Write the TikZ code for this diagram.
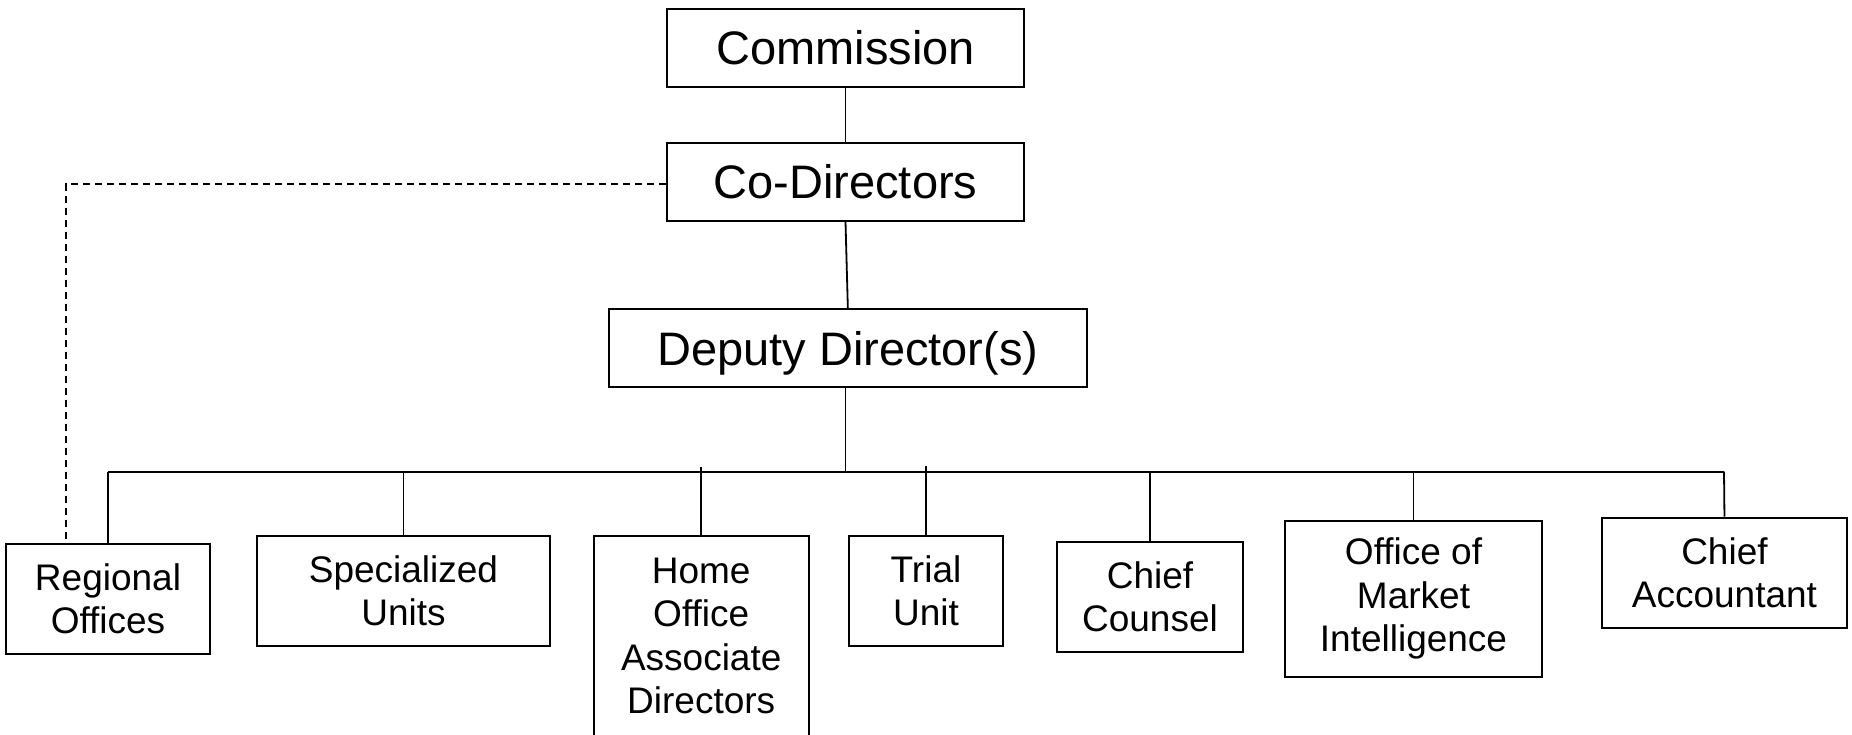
\documentclass[tikz,border=0pt]{standalone}
\usepackage{fontspec}
\setmainfont{Liberation Sans}
\begin{document}
\begin{tikzpicture}[x=1pt,y=-1pt,
  topbox/.style={draw=black,line width=2pt,inner sep=0pt,align=center,text height=33.7pt,text depth=0pt,font=\fontsize{47}{54}\selectfont},
  unitbox/.style={draw=black,line width=2pt,inner sep=0pt,align=center,font=\fontsize{37}{43.3}\selectfont},
  link/.style={draw=black,line width=1.8pt},
  dotted link/.style={draw=black,line width=1.9pt,dash pattern=on 7pt off 5pt}]
\useasboundingbox (0,0) rectangle (1852,734);
% top chain
\node[topbox,minimum width=357.6pt,minimum height=77.7pt] (com) at (845.5,47.85) {Commission};
\node[topbox,minimum width=357pt,minimum height=77.4pt] (cod) at (845.5,182) {Co-Directors};
\node[topbox,minimum width=477.7pt,minimum height=78pt] (dep) at (847.85,348.3) {Deputy Director(s)};
% units
\node[unitbox,minimum width=204.9pt,minimum height=110pt] (reg) at (108,598.7) {Regional\\Offices};
\node[unitbox,minimum width=292.2pt,minimum height=110.3pt] (spe) at (403.5,590.85) {Specialized\\Units};
\node[unitbox,minimum width=214.6pt,minimum height=200.3pt] (hom) at (701.2,635.85) {Home\\Office\\Associate\\Directors};
\node[unitbox,minimum width=153.5pt,minimum height=110.3pt] (tri) at (926,590.85) {Trial\\Unit};
\node[unitbox,minimum width=186pt,minimum height=110.3pt] (cc) at (1150,596.85) {Chief\\Counsel};
\node[unitbox,minimum width=256.4pt,minimum height=156pt] (omi) at (1413.5,598.7) {Office of\\Market\\Intelligence};
\node[unitbox,minimum width=245.7pt,minimum height=110pt] (ca) at (1724.45,572.7) {Chief\\Accountant};
% connectors
\coordinate (busL) at (108,471.7);
\coordinate (busR) at (1724,471.7);
\coordinate (homtop) at (701.2,467);
\coordinate (tritop) at (926,466);
\coordinate (dashend) at (65.6,543.7);
\draw[link] (com.south) -- (cod.north);
\draw[link] (cod.south) -- (dep.north);
\draw[link] (dep.south -| com.south) -- (com.south |- busL);
\draw[link] (busL) -- (busR);
\draw[link] (busL) -- (reg.north);
\draw[link] (spe.north |- busL) -- (spe.north);
\draw[link] (homtop) -- (hom.north);
\draw[link] (tritop) -- (tri.north);
\draw[link] (cc.north |- busL) -- (cc.north);
\draw[link] (omi.north |- busL) -- (omi.north);
\draw[link] (busR) -- (ca.north);
\draw[dotted link] ([yshift=-2.3pt]cod.west) -| (dashend);
\end{tikzpicture}
\end{document}
